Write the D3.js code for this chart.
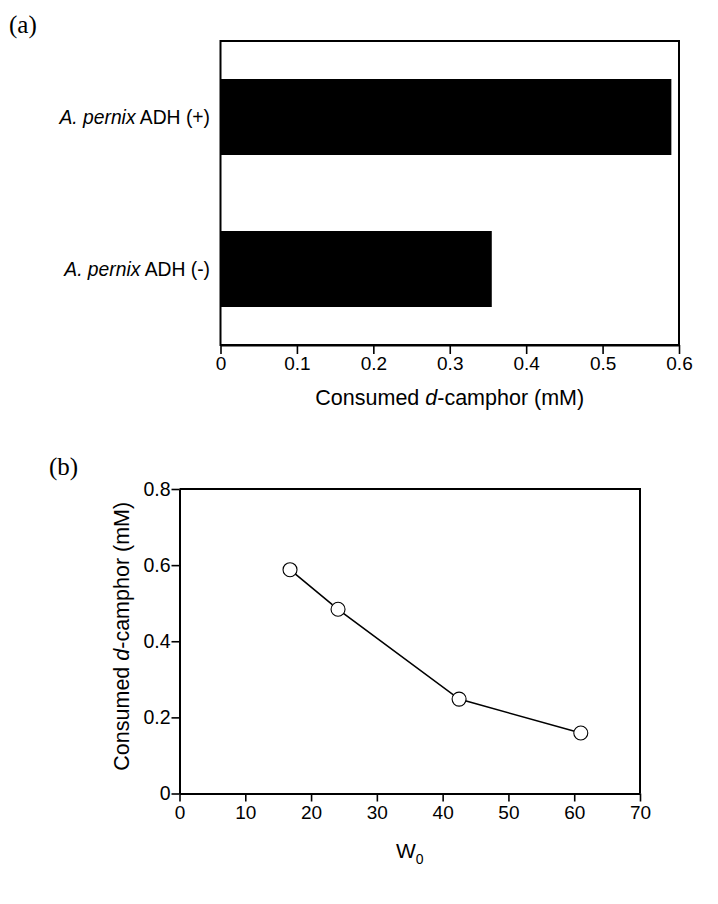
<!DOCTYPE html>
<html>
<head>
<meta charset="utf-8">
<script src="https://cdn.jsdelivr.net/npm/d3@7"></script>
<style>
  body { margin: 0; background: #fff; }
  svg text { font-family: "Liberation Sans", Arial, sans-serif; fill: #000; }
</style>
</head>
<body>
<div id="chart"></div>
<script>
// panel (a) data
const strains = ["A. pernix ADH (+)", "A. pernix ADH (-)"];
const consumedA = [0.59, 0.355];
const ticksA = [0, 0.1, 0.2, 0.3, 0.4, 0.5, 0.6];

// panel (b) data
const w0 = [16.8, 24.1, 42.5, 61.0];
const consumedB = [0.588, 0.484, 0.248, 0.159];
const ticksBx = [0, 10, 20, 30, 40, 50, 60, 70];
const ticksBy = [0, 0.2, 0.4, 0.6, 0.8];

const svg = d3.select("#chart")
  .append("svg")
  .attr("width", 718)
  .attr("height", 904);

// ---------- panel (a) ----------
const a = {left: 220.5, right: 679, top: 41, bottom: 345};

const xA = d3.scaleLinear().domain([0, 0.6]).range([a.left, a.right]);
const yA = d3.scaleBand().domain(strains).range([a.top, a.bottom])
  .paddingInner(0.5).paddingOuter(0.25);

svg.append("text")
  .attr("x", 9).attr("y", 33)
  .style("font-family", "'Liberation Serif', 'Times New Roman', serif")
  .style("font-size", "25px")
  .text("(a)");

svg.selectAll("rect.bar")
  .data(strains)
  .join("rect")
  .attr("class", "bar")
  .attr("x", xA(0))
  .attr("y", d => yA(d))
  .attr("width", (d, i) => xA(consumedA[i]) - xA(0))
  .attr("height", yA.bandwidth())
  .attr("fill", "#000");

// frame
svg.append("rect")
  .attr("x", a.left).attr("y", a.top)
  .attr("width", a.right - a.left).attr("height", a.bottom - a.top)
  .attr("fill", "none").attr("stroke", "#000").attr("stroke-width", 2);

const axA = svg.append("g")
  .attr("transform", `translate(0,${a.bottom})`)
  .call(d3.axisBottom(xA).tickValues(ticksA).tickFormat(d => d === 0 ? "0" : d3.format(".1f")(d))
    .tickSize(9).tickSizeOuter(0));
axA.select(".domain").attr("stroke-width", 2);
axA.selectAll(".tick line").attr("stroke-width", 1.6);
axA.selectAll(".tick text").style("font-size", "19px").attr("y", 12).attr("dy", "0.71em");

// category labels
const catLab = svg.selectAll("text.cat")
  .data(strains)
  .join("text")
  .attr("class", "cat")
  .attr("x", 210)
  .attr("y", d => yA(d) + yA.bandwidth() / 2)
  .attr("dy", "0.35em")
  .attr("text-anchor", "end")
  .style("font-size", "19.3px");
catLab.append("tspan").style("font-style", "italic").text("A. pernix");
catLab.append("tspan").text(d => " " + d.replace("A. pernix ", ""));

const labA = svg.append("text")
  .attr("x", (a.left + a.right) / 2)
  .attr("y", 405)
  .attr("text-anchor", "middle")
  .style("font-size", "21.5px");
labA.append("tspan").text("Consumed ");
labA.append("tspan").style("font-style", "italic").text("d");
labA.append("tspan").text("-camphor (mM)");

// ---------- panel (b) ----------
const b = {left: 179.5, right: 640, top: 489, bottom: 793.5};

const xB = d3.scaleLinear().domain([0, 70]).range([b.left, b.right]);
const yB = d3.scaleLinear().domain([0, 0.8]).range([b.bottom, b.top]);

svg.append("text")
  .attr("x", 49).attr("y", 475)
  .style("font-family", "'Liberation Serif', 'Times New Roman', serif")
  .style("font-size", "25px")
  .text("(b)");

// frame (top and right)
svg.append("path")
  .attr("d", `M${b.left},${b.top}H${b.right}V${b.bottom}`)
  .attr("fill", "none").attr("stroke", "#000").attr("stroke-width", 2);

const axBx = svg.append("g")
  .attr("transform", `translate(0,${b.bottom})`)
  .call(d3.axisBottom(xB).tickValues(ticksBx).tickSize(8).tickSizeOuter(0));
axBx.select(".domain").attr("stroke-width", 2);
axBx.selectAll(".tick line").attr("stroke-width", 1.6);
axBx.selectAll(".tick text").style("font-size", "19px").attr("y", 12).attr("dy", "0.71em");

const axBy = svg.append("g")
  .attr("transform", `translate(${b.left},0)`)
  .call(d3.axisLeft(yB).tickValues(ticksBy).tickFormat(d => d === 0 ? "0" : d3.format(".1f")(d))
    .tickSize(8).tickSizeOuter(0));
axBy.select(".domain").attr("stroke-width", 2);
axBy.selectAll(".tick line").attr("stroke-width", 1.6);
axBy.selectAll(".tick text").style("font-size", "19.5px").attr("x", -9);

// line + markers
const pts = w0.map((d, i) => ({x: d, y: consumedB[i]}));
svg.append("path")
  .datum(pts)
  .attr("fill", "none")
  .attr("stroke", "#000")
  .attr("stroke-width", 1.6)
  .attr("d", d3.line().x(d => xB(d.x)).y(d => yB(d.y)));

svg.selectAll("circle.pt")
  .data(pts)
  .join("circle")
  .attr("class", "pt")
  .attr("cx", d => xB(d.x))
  .attr("cy", d => yB(d.y))
  .attr("r", 7)
  .attr("fill", "#fff")
  .attr("stroke", "#000")
  .attr("stroke-width", 1.1);

// axis labels
const labBy = svg.append("text")
  .attr("transform", `translate(129,${(b.top + b.bottom) / 2 - 5}) rotate(-90)`)
  .attr("text-anchor", "middle")
  .style("font-size", "21.5px");
labBy.append("tspan").text("Consumed ");
labBy.append("tspan").style("font-style", "italic").text("d");
labBy.append("tspan").text("-camphor (mM)");

const labBx = svg.append("text")
  .attr("x", (b.left + b.right) / 2)
  .attr("y", 858)
  .attr("text-anchor", "middle")
  .style("font-size", "21px");
labBx.append("tspan").text("W");
labBx.append("tspan").attr("dy", 6).style("font-size", "14px").text("0");
</script>
</body>
</html>
